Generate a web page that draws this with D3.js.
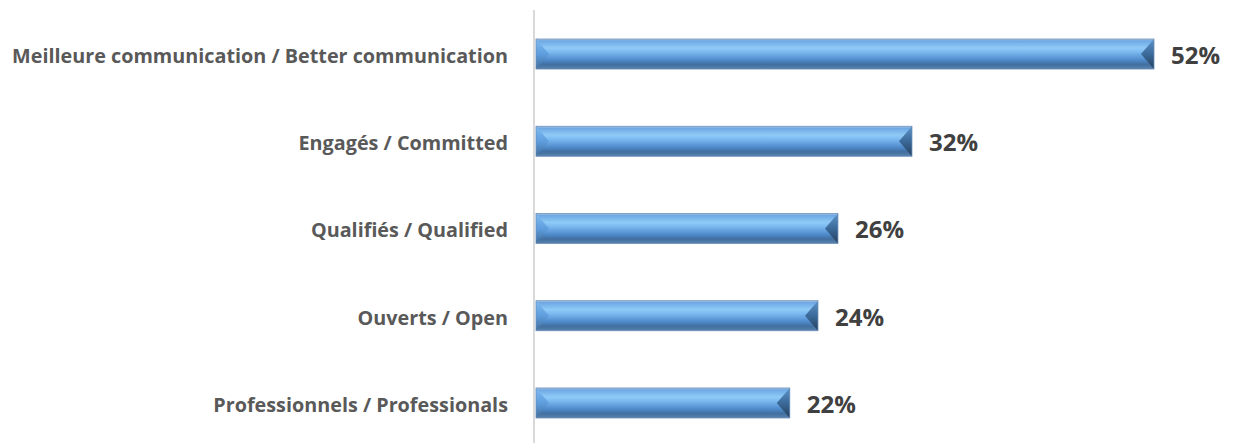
<!DOCTYPE html>
<html><head><meta charset="utf-8">
<script src="https://cdn.jsdelivr.net/npm/d3@7"></script>
<style>body{margin:0;background:#fff}svg{display:block}</style>
</head><body>
<script>
const categories = ["Meilleure communication / Better communication","Engagés / Committed","Qualifiés / Qualified","Ouverts / Open","Professionnels / Professionals"];
const values = [52.6, 32.0, 25.7, 24.0, 21.6];
const valueLabels = ["52%","32%","26%","24%","22%"];

const W = 1233, H = 443;
const svg = d3.select("body").append("svg").attr("width", W).attr("height", H);
const defs = svg.append("defs");

const g1 = defs.append("linearGradient").attr("id","barGrad").attr("x1",0).attr("y1",0).attr("x2",0).attr("y2",1);
[[0,"#b4cbe3"],[0.06,"#6ea8e4"],[0.3,"#8fcaf7"],[0.45,"#78b6ee"],[0.7,"#4f8acb"],[0.85,"#416f9f"],[1,"#5a82ad"]].forEach(([o,c])=>g1.append("stop").attr("offset",o).attr("stop-color",c));
const gL = defs.append("linearGradient").attr("id","leftGrad").attr("x1",0).attr("y1",0).attr("x2",0).attr("y2",1);
[[0,"#7fbcf2"],[0.5,"#5f9ede"],[1,"#3f6c9c"]].forEach(([o,c])=>gL.append("stop").attr("offset",o).attr("stop-color",c));
const gR = defs.append("linearGradient").attr("id","rightGrad").attr("x1",0).attr("y1",0).attr("x2",0).attr("y2",1);
[[0,"#5d93c8"],[0.5,"#3b6a9a"],[1,"#253f5c"]].forEach(([o,c])=>gR.append("stop").attr("offset",o).attr("stop-color",c));

const x0 = 536;
const x = d3.scaleLinear().domain([0, 52.6]).range([x0, 1154]);
const p = 0.656;
const y = d3.scaleBand().domain(categories).range([10.4, 446.6]).paddingInner(p).paddingOuter(p/2);

// axis line
svg.append("line").attr("x1",534).attr("x2",534).attr("y1",10).attr("y2",H).attr("stroke","#d9d9d9").attr("stroke-width",2);

const data = categories.map((c,i)=>({c, v: values[i], l: valueLabels[i]}));
const bars = svg.selectAll("g.bar").data(data).join("g").attr("class","bar");
const bw = y.bandwidth(), bev = 13;
bars.append("rect").attr("x", x0).attr("y", d=>y(d.c)).attr("width", d=>x(d.v)-x0).attr("height", bw).attr("fill","url(#barGrad)");
bars.append("path").attr("d", d=>{const t=y(d.c);return `M${x0},${t}L${x0+bev},${t+bw/2}L${x0},${t+bw}Z`;}).attr("fill","url(#leftGrad)");
bars.append("path").attr("d", d=>{const t=y(d.c),r=x(d.v);return `M${r},${t}L${r-bev},${t+bw/2}L${r},${t+bw}Z`;}).attr("fill","url(#rightGrad)");
bars.append("rect").attr("x", x0).attr("y", d=>y(d.c)).attr("width", d=>x(d.v)-x0).attr("height", bw).attr("fill","none").attr("stroke","#6a8fb8").attr("stroke-width",0.8);

// category labels
svg.selectAll("text.cat").data(data).join("text").attr("class","cat")
  .attr("x", 508).attr("y", d=>y(d.c)+bw/2+2).attr("dy","0.35em").attr("text-anchor","end")
  .attr("font-family","Open Sans, sans-serif").attr("font-weight","bold").attr("font-size","19.8px").attr("fill","#595959")
  .text(d=>d.c);

// value labels
svg.selectAll("text.val").data(data).join("text").attr("class","val")
  .attr("x", d=>x(d.v)+17).attr("y", d=>y(d.c)+bw/2+1.5).attr("dy","0.35em")
  .attr("font-family","Open Sans, sans-serif").attr("font-weight","bold").attr("font-size","24px").attr("fill","#404040")
  .text(d=>d.l);
</script>
</body></html>
